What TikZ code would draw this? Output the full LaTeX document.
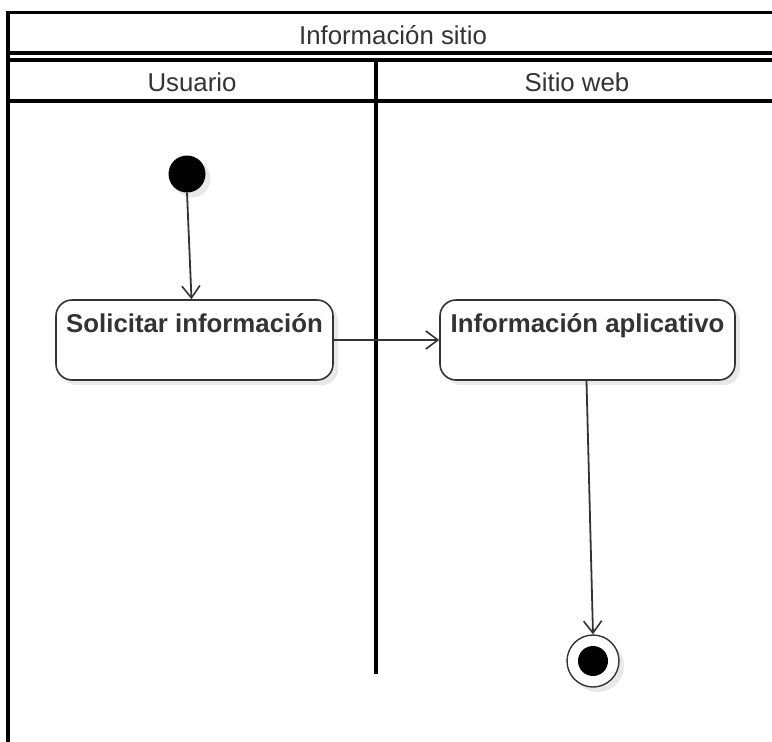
\documentclass[tikz,border=0pt]{standalone}
\usepackage{fontspec}
\setmainfont{Liberation Sans}
\usetikzlibrary{arrows.meta,calc,shadows}
\definecolor{ink}{HTML}{333333}
\definecolor{shade}{HTML}{E8E8E8}

\begin{document}
\begin{tikzpicture}[x=1pt,y=-1pt,
  frame/.style={line width=3.3pt,black},
  hdr/.style={font=\fontsize{25.8}{30}\selectfont,text=ink,anchor=base,inner sep=0pt},
  actbox/.style={draw=ink,line width=1.6pt,rounded corners=16pt,fill=white,
    minimum height=80pt,inner sep=0pt,
    drop shadow={shadow xshift=5pt,shadow yshift=-5pt,fill=shade,opacity=1}},
  actlbl/.style={font=\bfseries\fontsize{25.8}{30}\selectfont,text=ink,anchor=base,inner sep=0pt},
  flow/.style={draw=ink,line width=1.8pt,-{Straight Barb[length=12pt,width=18pt,line width=1.6pt]}},
  startdot/.style={circle,fill=black,minimum size=37pt,inner sep=0pt,
    drop shadow={shadow xshift=5pt,shadow yshift=-5pt,fill=shade,opacity=1}},
  endring/.style={circle,draw=ink,line width=1.4pt,fill=white,minimum size=52pt,inner sep=0pt,
    drop shadow={shadow xshift=5pt,shadow yshift=-5pt,fill=shade,opacity=1}},
  enddot/.style={circle,fill=black,minimum size=30pt,inner sep=0pt}
]
\useasboundingbox (0,0) rectangle (772,742);
\clip (0,0) rectangle (772,742);

% pool and swimlane outlines
\draw[frame] (8,760) -- (8,12.5) -- (790,12.5);
\draw[frame] (8,53) -- (790,53);
\draw[frame] (8,60) -- (790,60);
\draw[frame] (8,101) -- (790,101);
\draw[frame] (376,60) -- (376,674);

% pool and lane titles
\node[hdr] (pool)  at (393,44)   {Información sitio};
\node[hdr] (lane1) at (192,91.5) {Usuario};
\node[hdr] (lane2) at (577,91.5) {Sitio web};

% activity nodes
\node[startdot] (start) at (187,174) {};
\node[actbox,minimum width=277pt] (a1) at (194.5,340) {};
\node[actlbl] (t1) at ($(a1.north)+(0,33)$) {Solicitar información};
\node[actbox,minimum width=295pt] (a2) at (587.5,340) {};
\node[actlbl] (t2) at ($(a2.north)+(0,33)$) {Información aplicativo};
\node[endring] (stop) at (593,661) {};
\node[enddot] (stopdot) at (stop.center) {};

% control flow
\draw[flow] (start.south) -- ([xshift=-3pt]a1.north);
\draw[flow] (a1.east) -- (a2.west);
\draw[flow] ([xshift=-1pt]a2.south) -- (stop.north);
\end{tikzpicture}
\end{document}
